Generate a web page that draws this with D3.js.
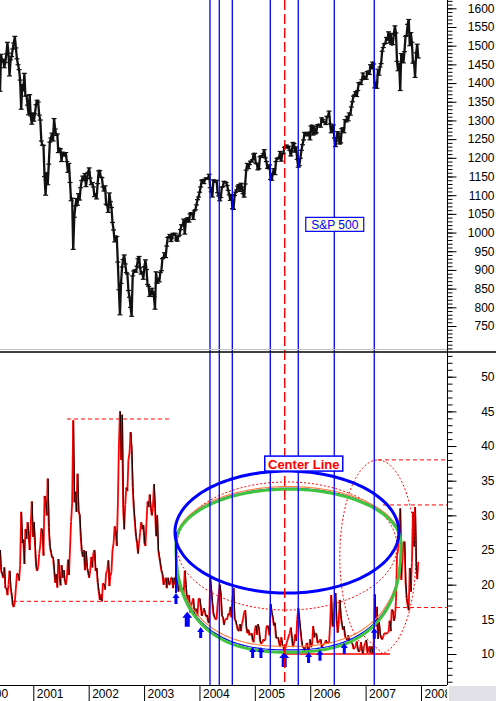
<!DOCTYPE html>
<html><head><meta charset="utf-8">
<script src="https://cdn.jsdelivr.net/npm/d3@7"></script>
<style>
html,body{margin:0;padding:0;background:#fff;}
svg{display:block;font-family:"Liberation Sans",Arial,sans-serif;}
</style></head><body>
<svg id="c" width="496" height="701"></svg>
<script>
// ---------- DATA (weekly, first week ending 2000-05-26) ----------
const startDate = "2000-05-26";
const spx2000 = [1378,1477,1456,1464,1441,1455,1478,1509,1480,1419,1462,1471,1491,1507,1525,1494,1465,1449,1436,1408,1330,1396,1379,1426,1365,1367,1341,1315,1369,1312,1290,1320];
const spx2001 = [1298,1318,1342,1354,1349,1314,1301,1245,1234,1233,1150,1100,1160,1128,1183,1242,1253,1266,1245,1305,1277,1260,1264,1214,1225,1224,1190,1215,1210,1205,1214,1190,1161,1185,1134,1085,1092,955,1041,1071,1091,1073,1104,1087,1120,1139,1151,1139,1158,1123,1144,1161];
const spx2002 = [1173,1146,1128,1134,1122,1096,1104,1090,1131,1165,1166,1148,1147,1122,1111,1125,1076,1073,1054,1106,1083,1067,1027,1007,975,990,989,921,847,780,864,908,928,940,916,893,889,845,827,800,776,884,897,900,894,910,930,936,906,889,895,875];
const spx2003 = [909,927,901,861,856,829,834,851,841,829,795,895,864,878,868,893,898,930,933,946,933,964,987,988,995,976,985,998,993,998,980,977,990,993,1008,1021,1018,1036,996,1029,1038,1039,1028,1050,1053,1050,1035,1058,1061,1074,1088,1095];
const spx2004 = [1108,1122,1140,1141,1131,1142,1146,1144,1145,1156,1120,1109,1095,1141,1139,1135,1140,1107,1098,1085,1094,1121,1123,1137,1135,1134,1126,1113,1101,1086,1102,1064,1062,1099,1108,1114,1124,1128,1110,1132,1122,1104,1095,1130,1167,1185,1171,1182,1191,1189,1195,1210,1212];
const spx2005 = [1186,1184,1168,1171,1203,1205,1201,1211,1222,1200,1190,1172,1172,1181,1142,1140,1157,1171,1155,1190,1199,1197,1201,1217,1191,1211,1212,1228,1230,1234,1226,1231,1220,1205,1218,1241,1238,1215,1229,1196,1175,1179,1199,1220,1235,1248,1268,1265,1259,1267,1268,1248];
const spx2006 = [1285,1287,1261,1284,1264,1267,1288,1289,1287,1282,1307,1302,1295,1295,1289,1311,1310,1325,1291,1267,1280,1288,1253,1230,1245,1270,1265,1237,1240,1278,1280,1267,1302,1296,1311,1299,1320,1314,1336,1350,1365,1368,1377,1364,1380,1401,1401,1396,1409,1427,1410,1418];
const spx2007 = [1410,1431,1431,1423,1449,1438,1456,1451,1387,1402,1386,1437,1421,1443,1452,1485,1495,1505,1506,1522,1515,1537,1507,1533,1503,1503,1530,1553,1534,1458,1433,1453,1380,1479,1474,1454,1484,1525,1527,1557,1570,1500,1535,1509,1453,1458,1415,1481,1504,1467];

const vix2000 = [25.0,22.0,21.5,21.0,22.5,19.5,19.5,18.5,20.0,22.0,19.5,18.5,17.0,16.8,17.5,19.5,21.6,21.5,20.6,22.8,30.5,26.0,26.5,23.0,28.0,26.6,29.0,27.0,25.0,28.5,32.0,26.9];
const vix2001 = [29.0,25.7,22.6,22.0,22.5,24.5,25.7,28.1,27.4,24.2,32.8,32.0,30.0,35.3,28.2,25.5,24.7,23.9,24.0,22.1,20.3,21.5,19.6,23.7,21.3,19.9,22.8,21.0,22.1,20.5,20.0,20.9,23.6,21.4,25.3,29.1,31.8,43.7,31.9,33.4,30.5,36.0,30.6,30.1,27.0,24.8,24.0,25.0,22.1,24.8,22.5,21.7];
const vix2002 = [21.0,22.0,24.0,22.5,24.6,25.0,22.0,22.4,20.3,19.0,17.8,18.6,17.6,20.2,20.0,19.3,21.7,22.0,23.5,19.8,21.2,21.9,25.0,26.0,28.4,27.6,25.6,31.5,40.0,45.0,38.0,44.5,31.0,28.0,31.6,34.0,33.5,38.0,39.0,42.0,39.5,34.0,31.0,29.0,27.0,26.0,24.5,26.0,27.5,29.0,28.0,28.6];
const vix2003 = [26.0,25.6,29.0,32.0,31.2,33.0,31.0,30.0,31.0,34.5,31.0,27.0,30.0,25.0,24.0,23.0,22.0,21.5,20.0,20.5,21.0,19.5,21.0,20.0,20.0,21.0,21.0,19.5,21.0,20.0,22.0,20.5,19.0,19.8,19.5,19.0,19.5,18.5,22.0,20.0,18.0,17.0,18.5,16.0,17.0,17.5,18.0,15.5,16.5,16.5,15.5,18.0];
const vix2004 = [18.0,16.8,15.5,15.9,16.6,16.0,15.4,15.6,14.6,14.5,21.0,19.2,17.3,15.8,15.3,15.0,15.0,17.2,18.6,20.0,18.5,15.5,15.3,14.2,14.9,15.1,15.0,15.8,15.6,16.8,15.3,18.0,19.5,15.0,14.8,14.1,13.5,13.3,14.3,13.3,14.4,15.0,16.0,16.3,13.9,13.0,13.5,12.7,12.9,13.0,12.0,11.7,13.3];
const vix2005 = [14.1,12.8,14.3,13.6,11.9,11.5,11.6,12.1,11.9,12.0,13.9,14.1,13.6,12.7,17.2,16.0,15.3,14.1,14.5,12.3,12.3,12.4,11.5,11.0,12.4,11.3,11.0,10.3,10.8,11.6,12.0,12.6,13.0,13.8,12.2,11.0,11.5,12.8,11.9,15.0,16.6,15.0,13.5,12.0,11.0,11.0,10.3,11.0,11.6,10.6,10.4,12.1];
const vix2006 = [11.0,11.3,14.0,12.4,13.0,12.9,11.6,11.6,12.0,12.1,11.0,11.3,11.4,11.5,12.0,11.6,11.6,11.6,14.2,18.5,14.1,14.0,17.0,18.8,15.0,13.1,14.2,17.8,15.5,14.3,13.5,14.0,12.5,12.3,12.0,12.7,11.8,12.0,11.6,11.5,10.7,10.9,11.1,11.8,10.7,10.3,10.5,11.7,10.4,10.0,11.1,11.6];
const vix2007 = [12.0,10.2,10.4,11.1,10.1,11.1,10.0,11.2,18.6,14.0,16.8,12.2,14.6,12.9,12.3,12.1,12.5,13.0,13.0,12.9,13.1,13.1,14.8,13.3,16.4,16.2,14.8,15.2,17.6,24.2,25.2,28.3,31.0,20.7,23.4,26.2,26.2,20.4,18.0,17.0,16.3,22.4,19.0,23.2,30.5,25.5,31.2,22.9,20.8,23.3];

const spxTicks = [750,800,850,900,950,1000,1050,1100,1150,1200,1250,1300,1350,1400,1450,1500,1550,1600];
const vixTicks = [10,15,20,25,30,35,40,45,50];
const yearTicks = [2000,2001,2002,2003,2004,2005,2006,2007,2008];

// annotations (decimal years / index values)
const blueLines = [2004.19,2004.358,2004.593,2005.279,2005.784,2006.434,2007.156];
const centerLine = [2005.539];
const dashStart = [2001.608,2000.633,2007.223,2007.313,2007.548];
const dashEnd   = [2003.504,2003.520,2008.47,2008.47,2008.47];
const dashVal   = [43.9,17.6,38.0,31.5,16.7];
const arrowYears = [2003.576,2003.78,2004.022,2004.96,2005.11,2005.53,2005.97,2006.176,2006.615,2007.157];
const arrowVals  = [18.8,16.1,13.9,11.0,11.0,10.3,10.3,10.6,11.6,13.8];
const arrowBig   = [0,1,0,0,0,1,0,0,0,0];

// ---------- SCALES ----------
const svg = d3.select("#c");
const axisX = 447;
const x  = d3.scaleLinear().domain([2001,2008]).range([33.3,421]);
const yS = d3.scaleLinear().domain([750,1600]).range([326,8.3]);
const yV = d3.scaleLinear().domain([10,50]).range([654,376.7]);

const spx = [].concat(spx2000,spx2001,spx2002,spx2003,spx2004,spx2005,spx2006,spx2007);
const vix = [].concat(vix2000,vix2001,vix2002,vix2003,vix2004,vix2005,vix2006,vix2007);
const t0 = new Date(startDate+"T00:00:00Z");
function decYear(d){const y=d.getUTCFullYear();const s=Date.UTC(y,0,1),e=Date.UTC(y+1,0,1);return y+(d-s)/(e-s);}
const wk = spx.map((_,i)=>decYear(new Date(t0.getTime()+i*7*864e5)));

const defs = svg.append("defs");
defs.append("clipPath").attr("id","cTop").append("rect").attr("x",0).attr("y",0).attr("width",axisX).attr("height",349);
defs.append("clipPath").attr("id","cBot").append("rect").attr("x",0).attr("y",352).attr("width",axisX).attr("height",333);
defs.append("clipPath").attr("id","cX").append("rect").attr("x",0).attr("y",680).attr("width",axisX).attr("height",21);

svg.append("rect").attr("width",496).attr("height",701).attr("fill","#fff");

// ---------- TOP PANEL: S&P 500 ----------
const gTop = svg.append("g").attr("clip-path","url(#cTop)");
gTop.append("path").datum(spx)
  .attr("d", d3.line().x((d,i)=>x(wk[i])).y(d=>yS(d)))
  .attr("fill","none").attr("stroke","#111").attr("stroke-width",2.3).attr("stroke-linejoin","bevel");
gTop.selectAll("line.tk").data(spx).join("line").attr("class","tk")
  .attr("x1",(d,i)=>x(wk[i])-2.5).attr("x2",(d,i)=>x(wk[i])+2.5)
  .attr("y1",d=>yS(d)).attr("y2",d=>yS(d))
  .attr("stroke","#111").attr("stroke-width",1.2);

// ---------- BOTTOM PANEL: VIX ----------
const gBot = svg.append("g").attr("clip-path","url(#cBot)");
const segs = vix.slice(1).map((v,i)=>({x0:wk[i],v0:vix[i],x1:wk[i+1],v1:v}));
gBot.selectAll("line.vx").data(segs).join("line").attr("class","vx")
  .attr("x1",d=>x(d.x0)).attr("x2",d=>x(d.x1))
  .attr("y1",d=>yV(d.v0)).attr("y2",d=>yV(d.v1))
  .attr("stroke","#ff0000").attr("stroke-width",1.8);
gBot.selectAll("line.vk").data(segs.filter(d=>d.v1<d.v0)).join("line").attr("class","vk")
  .attr("x1",d=>x(d.x0)+0.4).attr("x2",d=>x(d.x1)+0.4)
  .attr("y1",d=>yV(d.v0)).attr("y2",d=>yV(d.v1))
  .attr("stroke","#000").attr("stroke-width",0.9);

// dashed reference lines
gBot.selectAll("line.rd").data(dashVal).join("line").attr("class","rd")
  .attr("x1",(d,i)=>x(dashStart[i])).attr("x2",(d,i)=>x(dashEnd[i]))
  .attr("y1",d=>yV(d)).attr("y2",d=>yV(d))
  .attr("stroke","#ff0000").attr("stroke-width",1).attr("stroke-dasharray","4,3");
// solid support line at 10
gBot.append("line").attr("x1",x(2005.508)).attr("x2",x(2007.44)).attr("y1",yV(10)).attr("y2",yV(10))
  .attr("stroke","#ff0000").attr("stroke-width",1.3);
gBot.append("line").attr("x1",x(2006.916)).attr("x2",x(2007.313)).attr("y1",yV(13)).attr("y2",yV(10))
  .attr("stroke","#ff0000").attr("stroke-width",1).attr("stroke-dasharray","2,2");

// ellipses (data space)
function superEll(cx,cy,rx,ryUp,ryLow,pLow){
  const n=180;
  return d3.range(n+1).map(i=>{
    const a=2*Math.PI*i/n, c=Math.cos(a), s=Math.sin(a);
    if(s>=0) return [cx+rx*c, cy+ryUp*s];
    const e=2/pLow;
    return [cx+rx*Math.sign(c)*Math.pow(Math.abs(c),e), cy-ryLow*Math.pow(Math.abs(s),e)];
  });
}
const eLine = d3.line().x(d=>x(d[0])).y(d=>yV(d[1]));
const ann = gBot.append("g");
ann.append("path").attr("d",eLine(superEll(2005.58,25.58,1.986,9.24,9.24,2)))
  .attr("fill","none").attr("stroke","#ff0000").attr("stroke-width",1).attr("stroke-dasharray","2,2");
ann.append("path").attr("d",eLine(superEll(2007.22,23.98,0.686,14.0,14.0,2)))
  .attr("fill","none").attr("stroke","#ff0000").attr("stroke-width",1).attr("stroke-dasharray","2,2");
ann.append("path").attr("d",eLine(superEll(2005.607,26.30,2.031,7.85,15.2,2.5)))
  .attr("fill","none").attr("stroke","#ff8040").attr("stroke-width",1.2);
ann.append("path").attr("d",eLine(superEll(2005.607,26.10,2.031,7.80,15.5,2.5)))
  .attr("fill","none").attr("stroke","#0000ff").attr("stroke-width",1.2);
ann.append("path").attr("d",eLine(superEll(2005.607,25.99,2.031,7.79,15.73,2.5)))
  .attr("fill","none").attr("stroke","#3ec43e").attr("stroke-width",3);
ann.append("path").attr("d",eLine(superEll(2005.58,27.59,2.022,8.80,8.80,2)))
  .attr("fill","none").attr("stroke","#0000ff").attr("stroke-width",3);
ann.append("line").attr("x1",x(2003.576)).attr("x2",x(2003.576)).attr("y1",yV(27.6)).attr("y2",yV(18.8))
  .attr("stroke","#0000ff").attr("stroke-width",2);

// arrows
ann.selectAll("path.ar").data(arrowYears).join("path").attr("class","ar")
  .attr("transform",(d,i)=>`translate(${x(d)},${yV(arrowVals[i])})`)
  .attr("d",(d,i)=>arrowBig[i]?"M0,0L5,6L2.5,6L2.5,15L-2.5,15L-2.5,6L-5,6Z":"M0,0L3.5,5L1.5,5L1.5,11L-1.5,11L-1.5,5L-3.5,5Z")
  .attr("fill","#0000ff");

// ---------- VERTICAL LINES (both panels) ----------
svg.selectAll("line.bl").data(blueLines).join("line").attr("class","bl")
  .attr("x1",d=>x(d)).attr("x2",d=>x(d)).attr("y1",0).attr("y2",685)
  .attr("stroke","#0000ff").attr("stroke-width",1.3);
svg.selectAll("line.cl").data(centerLine).join("line").attr("class","cl")
  .attr("x1",d=>x(d)).attr("x2",d=>x(d)).attr("y1",0).attr("y2",685)
  .attr("stroke","#ff0000").attr("stroke-width",1.4).attr("stroke-dasharray","10,4");

// ---------- PANEL FRAME ----------
svg.append("line").attr("x1",0).attr("x2",axisX).attr("y1",349.5).attr("y2",349.5).attr("stroke","#c0c0c0").attr("stroke-width",1);
svg.append("line").attr("x1",0).attr("x2",496).attr("y1",352).attr("y2",352).attr("stroke","#000").attr("stroke-width",1.5);
svg.append("line").attr("x1",axisX+0.5).attr("x2",axisX+0.5).attr("y1",0).attr("y2",685).attr("stroke","#000").attr("stroke-width",1);
svg.append("line").attr("x1",0).attr("x2",axisX).attr("y1",685.5).attr("y2",685.5).attr("stroke","#000").attr("stroke-width",1);
svg.append("rect").attr("x",449).attr("y",686).attr("width",47).attr("height",15).attr("fill","#e0e0e6");

// ---------- AXES ----------
function styleAxis(g){ g.select(".domain").remove(); g.attr("font-family","Liberation Sans, Arial, sans-serif").attr("font-size",12);
  g.selectAll("line").attr("stroke","#000"); g.selectAll("text").attr("fill","#000"); }
const topMinor = svg.append("g").attr("transform",`translate(${axisX+0.5},0)`)
  .call(d3.axisRight(yS).tickValues(d3.range(690,1621,10)).tickSize(5).tickFormat(""));
styleAxis(topMinor);
const topMajor = svg.append("g").attr("transform",`translate(${axisX+0.5},0)`)
  .call(d3.axisRight(yS).tickValues(spxTicks).tickSize(9).tickFormat(d3.format("d")));
styleAxis(topMajor);
topMajor.selectAll("text").attr("x",47).attr("text-anchor","end");

const botMinor = svg.append("g").attr("transform",`translate(${axisX+0.5},0)`)
  .call(d3.axisRight(yV).tickValues(d3.range(6,54,1)).tickSize(5).tickFormat(""));
styleAxis(botMinor);
const botMajor = svg.append("g").attr("transform",`translate(${axisX+0.5},0)`)
  .call(d3.axisRight(yV).tickValues(vixTicks).tickSize(9).tickFormat(d3.format("d")));
styleAxis(botMajor);
botMajor.selectAll("text").attr("x",47).attr("text-anchor","end");

const xAx = svg.append("g").attr("clip-path","url(#cX)").append("g").attr("transform","translate(0,685)")
  .call(d3.axisBottom(x).tickValues(yearTicks).tickSize(16).tickFormat(d3.format("d")));
styleAxis(xAx);
xAx.selectAll("text").attr("x",3).attr("y",13).attr("dy",0).attr("text-anchor","start");

// ---------- LABELS ----------
const lab1 = svg.append("g").attr("transform",`translate(${x(2005.91)},${yS(1042)})`);
lab1.append("rect").attr("x",0.5).attr("y",0.5).attr("width",58).attr("height",14).attr("fill","#ffffe0").attr("stroke","#0000ff").attr("stroke-width",1.2);
lab1.append("text").attr("x",29.5).attr("y",11.7).attr("text-anchor","middle").attr("font-size",12).attr("fill","#0000ff").text("S&P 500");

const lab2 = svg.append("g").attr("transform",`translate(${x(2005.17)},${yV(38.62)})`);
lab2.append("rect").attr("x",0.5).attr("y",0.5).attr("width",78).attr("height",15).attr("fill","#fff").attr("stroke","#0000ff").attr("stroke-width",1.5);
lab2.append("text").attr("x",39.5).attr("y",13).attr("text-anchor","middle").attr("font-size",13).attr("font-weight","bold").attr("fill","#ff0000").text("Center Line");
</script>
</body></html>
